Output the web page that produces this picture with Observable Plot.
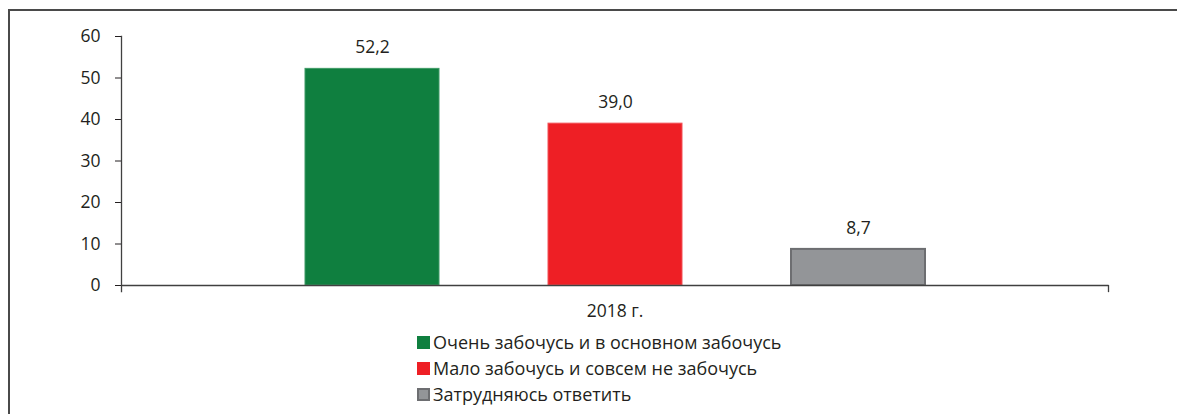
<!DOCTYPE html>
<html>
<head>
<meta charset="utf-8">
<script src="https://cdn.jsdelivr.net/npm/d3@7"></script>
<script src="https://cdn.jsdelivr.net/npm/@observablehq/plot@0.6"></script>
<style>
  html, body { margin: 0; padding: 0; background: #fff; }
  body { width: 1177px; height: 414px; position: relative; overflow: hidden; font-family: "Open Sans", "Noto Sans", sans-serif; }
  #border { position: absolute; left: 8px; top: 9px; right: -10px; bottom: -10px; border-left: 2px solid #4a4a4a; border-top: 2px solid #4a4a4a; }
  #chart { position: absolute; left: 0; top: 0; }
  #legend { position: absolute; left: 417px; top: 329px; font-size: 18px; color: #231f20; }
  .row { display: flex; align-items: center; height: 26px; }
  .sw { width: 13px; height: 13px; margin-right: 3px; box-sizing: border-box; }
</style>
</head>
<body>
<div id="border"></div>
<div id="chart"></div>
<div id="legend"></div>
<script>
const categories = [
  "Очень забочусь и в основном забочусь",
  "Мало забочусь и совсем не забочусь",
  "Затрудняюсь ответить"
];
const values = [52.2, 39.0, 8.7];
const year = "2018 г.";
const yTicks = [0, 10, 20, 30, 40, 50, 60];
const fills = ["#0f7f3f", "#ee1f25", "#939598"];
const strokes = ["#3f9a66", "#f25056", "#6d6e71"];

const data = categories.map((c, i) => ({year, cat: c, value: values[i]}));
const fmt = v => v.toFixed(1).replace(".", ",");

const plot = Plot.plot({
  width: 1177,
  height: 328,
  marginLeft: 121,
  marginRight: 69,
  marginTop: 36,
  marginBottom: 43,
  style: {fontFamily: "'Open Sans', 'Noto Sans', sans-serif", fontSize: "17.5px", color: "#231f20", background: "transparent", overflow: "visible"},
  fx: {domain: [year], padding: 0, label: null, axis: "bottom", tickSize: 0, tickPadding: 19},
  x: {domain: categories, paddingInner: 0.449, paddingOuter: 0.755, axis: null},
  y: {domain: [0, 60], ticks: yTicks, tickSize: 6, tickPadding: 15, label: null},
  color: {domain: categories, range: fills},
  marks: [
    Plot.barY(data, {
      fx: "year", x: "cat", y: "value", fill: "cat",
      stroke: d => strokes[categories.indexOf(d.cat)],
      strokeWidth: d => d.cat === categories[2] ? 2 : 1
    }),
    Plot.text(data, {
      fx: "year", x: "cat", y: "value", text: d => fmt(d.value),
      dy: -21, fontSize: 17.5, fill: "#231f20"
    }),
    Plot.ruleY([0], {stroke: "#404040", strokeWidth: 1.3}),
    Plot.frame({anchor: "left", insetBottom: -6, stroke: "#404040", strokeWidth: 1.3}),
    Plot.frame({anchor: "right", insetTop: 249, insetBottom: -6, stroke: "#404040", strokeWidth: 1.3})
  ]
});
document.getElementById("chart").appendChild(plot);

const legend = document.getElementById("legend");
categories.forEach((c, i) => {
  const row = document.createElement("div");
  row.className = "row";
  const sw = document.createElement("span");
  sw.className = "sw";
  sw.style.background = fills[i];
  if (i === 2) sw.style.border = "2px solid " + strokes[i];
  const t = document.createElement("span");
  t.textContent = c;
  row.appendChild(sw);
  row.appendChild(t);
  legend.appendChild(row);
});
</script>
</body>
</html>
